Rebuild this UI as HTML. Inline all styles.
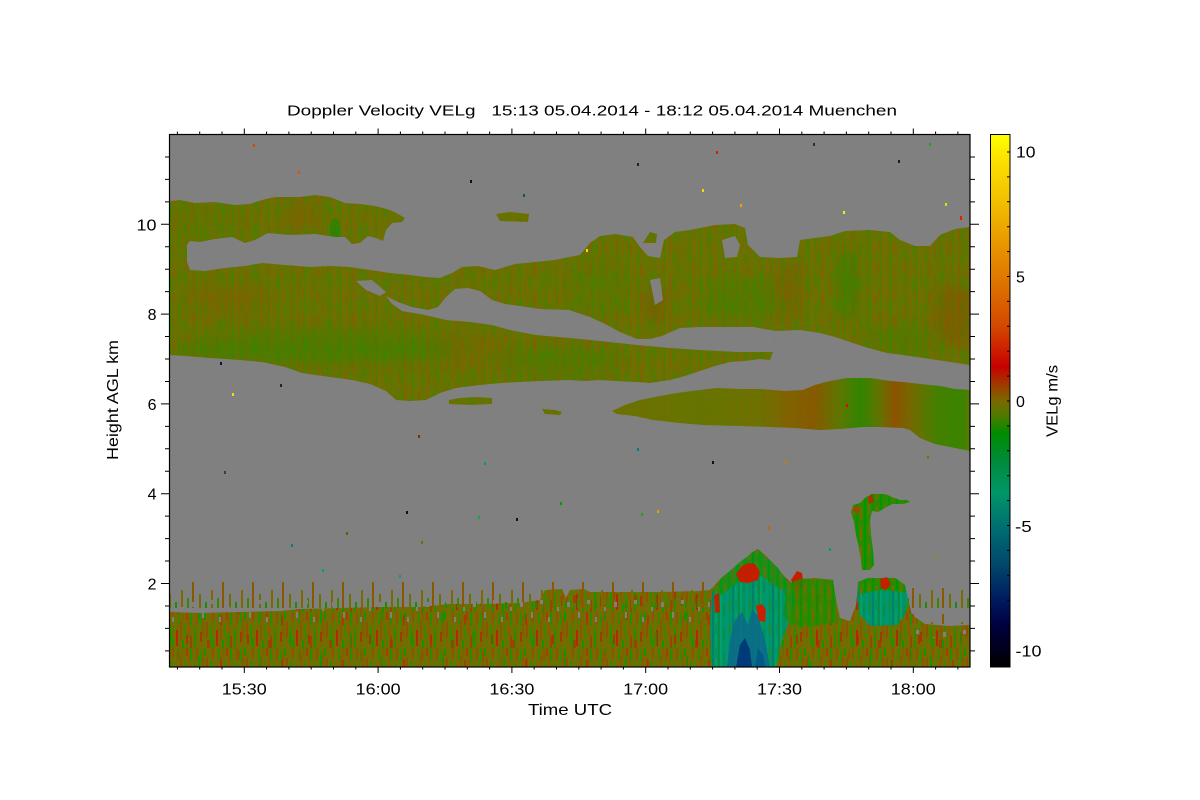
<!DOCTYPE html>
<html>
<head>
<meta charset="utf-8">
<style>
html,body{margin:0;padding:0;background:#fff;}
svg{display:block;font-family:"Liberation Sans",Arial,sans-serif;}
</style>
</head>
<body>
<svg width="1200" height="800" viewBox="0 0 1200 800" xmlns="http://www.w3.org/2000/svg">
<defs>
  <linearGradient id="cb" x1="0" y1="0" x2="0" y2="1">
    <stop offset="0" stop-color="#ffff00"/>
    <stop offset="0.05" stop-color="#fbe000"/>
    <stop offset="0.126" stop-color="#f2c000"/>
    <stop offset="0.22" stop-color="#e69000"/>
    <stop offset="0.266" stop-color="#e07a00"/>
    <stop offset="0.36" stop-color="#d44800"/>
    <stop offset="0.436" stop-color="#c80000"/>
    <stop offset="0.47" stop-color="#a03a00"/>
    <stop offset="0.5" stop-color="#7a6800"/>
    <stop offset="0.53" stop-color="#4a7c00"/>
    <stop offset="0.561" stop-color="#008c00"/>
    <stop offset="0.62" stop-color="#008c40"/>
    <stop offset="0.673" stop-color="#009668"/>
    <stop offset="0.734" stop-color="#007070"/>
    <stop offset="0.804" stop-color="#004a6c"/>
    <stop offset="0.874" stop-color="#001a60"/>
    <stop offset="0.921" stop-color="#000040"/>
    <stop offset="1" stop-color="#000000"/>
  </linearGradient>

  <linearGradient id="g6" gradientUnits="userSpaceOnUse" x1="612" y1="0" x2="970" y2="0">
    <stop offset="0" stop-color="#6e7000"/>
    <stop offset="0.246" stop-color="#667400"/>
    <stop offset="0.413" stop-color="#707000"/>
    <stop offset="0.497" stop-color="#8a5c00"/>
    <stop offset="0.567" stop-color="#8f5200"/>
    <stop offset="0.637" stop-color="#5a7800"/>
    <stop offset="0.693" stop-color="#1e8c00"/>
    <stop offset="0.743" stop-color="#5a7600"/>
    <stop offset="0.791" stop-color="#994800"/>
    <stop offset="0.832" stop-color="#7a6400"/>
    <stop offset="0.902" stop-color="#3c8400"/>
    <stop offset="0.972" stop-color="#2a8a00"/>
    <stop offset="1" stop-color="#4a8000"/>
  </linearGradient>

  <pattern id="cl" width="36" height="24" patternUnits="userSpaceOnUse">
    <rect width="36" height="24" fill="#687200"/>
    <rect x="0" width="2" height="24" fill="#627500"/>
    <rect x="2" width="3" height="24" fill="#726c00"/>
    <rect x="5" width="2" height="24" fill="#5c7700"/>
    <rect x="9" width="2" height="24" fill="#766a00"/>
    <rect x="12" width="3" height="24" fill="#627500"/>
    <rect x="16" width="2" height="24" fill="#587900"/>
    <rect x="18" width="3" height="24" fill="#6e7000"/>
    <rect x="23" width="2" height="24" fill="#7a6800"/>
    <rect x="26" width="2" height="24" fill="#5a7800"/>
    <rect x="31" width="2" height="24" fill="#726d00"/>
    <rect x="34" width="2" height="24" fill="#607600"/>
    <rect x="3" y="8" width="2" height="10" fill="#4c7e00"/>
    <rect x="14" y="2" width="2" height="8" fill="#806200"/>
    <rect x="24" y="14" width="2" height="9" fill="#547a00"/>
    <rect x="29" y="5" width="2" height="7" fill="#846000"/>
    <rect x="7" y="16" width="2" height="6" fill="#4e7e00"/>
  </pattern>
  <pattern id="cl2" width="53" height="37" patternUnits="userSpaceOnUse">
    <rect x="4" y="3" width="2" height="14" fill="#8a5a00" opacity="0.5"/>
    <rect x="11" y="20" width="3" height="12" fill="#3c8600" opacity="0.5"/>
    <rect x="19" y="8" width="2" height="18" fill="#3a8600" opacity="0.45"/>
    <rect x="27" y="0" width="2" height="10" fill="#905600" opacity="0.45"/>
    <rect x="33" y="15" width="2" height="20" fill="#8c5800" opacity="0.4"/>
    <rect x="41" y="4" width="3" height="15" fill="#408400" opacity="0.5"/>
    <rect x="47" y="22" width="2" height="12" fill="#8a5a00" opacity="0.45"/>
  </pattern>

  <pattern id="bl" width="40" height="36" patternUnits="userSpaceOnUse">
    <rect width="40" height="36" fill="#766a00"/>
    <rect x="0" y="0" width="2" height="14" fill="#3a8600"/>
    <rect x="0" y="20" width="2" height="10" fill="#a43800"/>
    <rect x="2" y="4" width="2" height="20" fill="#865c00"/>
    <rect x="4" y="0" width="2" height="8" fill="#1e9000"/>
    <rect x="4" y="24" width="2" height="12" fill="#6a7200"/>
    <rect x="6" y="10" width="2" height="16" fill="#8e5200"/>
    <rect x="8" y="0" width="2" height="36" fill="#6e7000"/>
    <rect x="10" y="14" width="2" height="18" fill="#2e8c00"/>
    <rect x="12" y="0" width="2" height="10" fill="#8e5400"/>
    <rect x="12" y="26" width="2" height="10" fill="#2a8c00"/>
    <rect x="14" y="6" width="2" height="14" fill="#5e7800"/>
    <rect x="16" y="18" width="2" height="16" fill="#b02c00"/>
    <rect x="18" y="0" width="2" height="12" fill="#3a8600"/>
    <rect x="20" y="8" width="2" height="20" fill="#845c00"/>
    <rect x="22" y="28" width="2" height="8" fill="#1a9200"/>
    <rect x="22" y="0" width="2" height="10" fill="#7a6600"/>
    <rect x="24" y="12" width="2" height="14" fill="#468200"/>
    <rect x="26" y="0" width="2" height="8" fill="#9c4400"/>
    <rect x="26" y="22" width="2" height="14" fill="#527c00"/>
    <rect x="28" y="6" width="2" height="18" fill="#8a5c00"/>
    <rect x="30" y="0" width="2" height="14" fill="#2a8c00"/>
    <rect x="30" y="24" width="2" height="12" fill="#964600"/>
    <rect x="32" y="10" width="2" height="10" fill="#6c7000"/>
    <rect x="34" y="16" width="2" height="20" fill="#348800"/>
    <rect x="36" y="0" width="2" height="12" fill="#845a00"/>
    <rect x="38" y="8" width="2" height="22" fill="#567c00"/>
  </pattern>
  <pattern id="bl2" width="61" height="45" patternUnits="userSpaceOnUse">
    <rect x="3" y="5" width="2" height="9" fill="#c02000" opacity="0.7"/>
    <rect x="15" y="25" width="2" height="12" fill="#009a00" opacity="0.6"/>
    <rect x="24" y="10" width="3" height="8" fill="#b82800" opacity="0.6"/>
    <rect x="37" y="30" width="2" height="10" fill="#c42000" opacity="0.6"/>
    <rect x="45" y="2" width="2" height="14" fill="#0c9600" opacity="0.6"/>
    <rect x="55" y="20" width="2" height="10" fill="#9a4a00" opacity="0.6"/>
  </pattern>

  <pattern id="tl" width="20" height="24" patternUnits="userSpaceOnUse">
    <rect width="20" height="24" fill="#009664"/>
    <rect x="0" width="2" height="24" fill="#00a070"/>
    <rect x="3" y="5" width="2" height="12" fill="#0a8c50"/>
    <rect x="6" width="2" height="24" fill="#009678"/>
    <rect x="9" y="0" width="2" height="10" fill="#1a8c3a"/>
    <rect x="12" width="2" height="24" fill="#00806e"/>
    <rect x="15" y="10" width="2" height="14" fill="#00a068"/>
    <rect x="18" width="2" height="24" fill="#0c8a48"/>
  </pattern>

  <pattern id="gr" width="16" height="20" patternUnits="userSpaceOnUse">
    <rect width="16" height="20" fill="#2a8a00"/>
    <rect x="0" width="2" height="20" fill="#009600"/>
    <rect x="4" y="3" width="2" height="12" fill="#5a7a00"/>
    <rect x="8" width="2" height="20" fill="#0a9400"/>
    <rect x="12" y="6" width="2" height="14" fill="#6e7000"/>
  </pattern>

  <pattern id="sp" x="0" y="576" width="30" height="32" patternUnits="userSpaceOnUse">
    <rect x="1" y="14" width="2" height="18" fill="#7a6a00"/>
    <rect x="7" y="22" width="2" height="10" fill="#3a8600"/>
    <rect x="12" y="6" width="2" height="26" fill="#8a5800"/>
    <rect x="19" y="18" width="2" height="14" fill="#6c7000"/>
    <rect x="25" y="26" width="2" height="6" fill="#1e8c00"/>
  </pattern>

  <pattern id="gp" x="0" y="598" width="47" height="30" patternUnits="userSpaceOnUse">
    <rect x="3" y="4" width="3" height="5" fill="#808080"/>
    <rect x="14" y="14" width="2" height="6" fill="#808080"/>
    <rect x="23" y="2" width="3" height="4" fill="#808080"/>
    <rect x="31" y="19" width="2" height="5" fill="#808080"/>
    <rect x="40" y="9" width="2" height="4" fill="#808080"/>
  </pattern>

  <filter id="blur" x="-50%" y="-50%" width="200%" height="200%">
    <feGaussianBlur stdDeviation="6"/>
  </filter>

  <path id="pB" d="M169.5,265 L190,270 L205,271 L225,268 L245,266 L262,263 L285,265 L310,267 L330,266 L350,267 L370,270 L390,273 L410,275 L425,277 L440,278 L452,273 L462,267 L478,266 L495,270 L515,264 L535,262 L555,260 L569,257 L580,255 L590,243 L600,236 L615,234 L633,237 L640,247 L648,256 L660,258 L664,240 L675,232 L690,230 L705,227 L715,225 L735,224 L745,228 L748,245 L760,257 L780,258 L797,257 L800,240 L815,238 L830,236 L845,231 L870,230 L890,232 L900,240 L915,246 L930,246 L940,235 L955,229 L970,227 L970,365 L950,362 L937,360 L910,356 L887,353 L865,347 L853,343 L835,337 L820,333 L800,330 L776,331 L773,352 L770,360 L760,359 L745,361 L730,362 L715,366 L703,370 L685,376 L670,380 L650,383 L637,382 L615,381 L600,380 L585,381 L569,380 L540,381 L520,382 L502,383 L480,385 L456,388 L440,393 L426,400 L410,401 L396,400 L386,391 L370,384 L352,380 L330,377 L302,373 L285,367 L262,362 L240,360 L210,358 L185,356 L169.5,355 Z"/>
  <path id="pA" d="M169.5,201 L180,200 L195,203 L215,202 L235,205 L250,204 L262,200 L275,197 L300,197 L315,195 L330,197 L345,203 L360,204 L375,206 L390,210 L398,214 L405,218 L402,222 L392,223 L386,230 L383,241 L376,238 L368,236 L360,243 L352,244 L345,237 L336,237 L315,234 L290,235 L268,233 L255,240 L245,243 L232,237 L215,239 L200,242 L190,241 L187,245 L187,262 L190,270 L169.5,272 Z"/>
  <path id="pC" d="M612,411 L625,405 L640,400 L660,396 L677,393 L700,390 L717,388 L740,389 L760,389 L785,391 L803,390 L815,385 L830,381 L847,378 L870,378 L890,381 L903,382 L920,384 L940,386 L955,389 L970,390 L970,451 L955,448 L935,444 L920,438 L910,430 L903,428 L880,427 L863,427 L840,429 L820,430 L795,428 L770,427 L740,426 L703,425 L680,423 L653,420 L635,416 L617,414 Z"/>
  <path id="pD" d="M170,612 L200,613 L240,612 L280,611 L300,609 L340,608 L380,607 L420,607 L450,604 L480,604 L520,603 L540,600 L545,590 L562,589 L566,598 L570,590 L584,589 L590,592 L620,592 L660,592 L700,591 L710,590 L714,586 L722,577 L735,567 L745,559 L752,552 L758,549 L765,555 L775,565 L785,577 L792,583 L800,579 L815,578 L833,580 L836,600 L840,618 L850,621 L856,605 L858,585 L868,578 L895,578 L905,585 L908,600 L912,615 L925,624 L950,626 L970,625 L970,667 L170,667 Z"/>

  <clipPath id="cpB"><use href="#pB"/></clipPath>
  <clipPath id="cpA"><use href="#pA"/></clipPath>
  <clipPath id="cpC"><use href="#pC"/></clipPath>
  <clipPath id="plot"><rect x="170" y="135" width="800" height="532"/></clipPath>
</defs>

<rect width="1200" height="800" fill="#ffffff"/>

<g clip-path="url(#plot)">
  <rect x="170" y="135" width="800" height="532" fill="#808080"/>

  <!-- 10 km layer -->
  <use href="#pA" fill="url(#cl)"/>
  <use href="#pA" fill="url(#cl2)"/>
  <g clip-path="url(#cpA)">
    <ellipse cx="300" cy="215" rx="16" ry="16" fill="#8c5a00" opacity="0.4" filter="url(#blur)"/>
    <ellipse cx="335" cy="230" rx="5" ry="12" fill="#009000" opacity="0.5"/>
    <ellipse cx="210" cy="225" rx="30" ry="10" fill="#4a8000" opacity="0.3" filter="url(#blur)"/>
  </g>

  <!-- main band -->
  <use href="#pB" fill="url(#cl)"/>
  <use href="#pB" fill="url(#cl2)"/>
  <g clip-path="url(#cpB)">
    <ellipse cx="320" cy="348" rx="140" ry="16" fill="#2c8800" opacity="0.4" filter="url(#blur)"/>
    <ellipse cx="560" cy="362" rx="60" ry="12" fill="#2c8800" opacity="0.3" filter="url(#blur)"/>
    <ellipse cx="230" cy="300" rx="40" ry="15" fill="#8c5a00" opacity="0.3" filter="url(#blur)"/>
    <ellipse cx="470" cy="350" rx="40" ry="15" fill="#8c5a00" opacity="0.25" filter="url(#blur)"/>
    <ellipse cx="655" cy="305" rx="10" ry="20" fill="#8c4a00" opacity="0.4" filter="url(#blur)"/>
    <ellipse cx="740" cy="300" rx="40" ry="22" fill="#2c8a00" opacity="0.3" filter="url(#blur)"/>
    <ellipse cx="848" cy="285" rx="7" ry="35" fill="#0a9000" opacity="0.5" filter="url(#blur)"/>
    <ellipse cx="790" cy="290" rx="12" ry="28" fill="#8c5000" opacity="0.3" filter="url(#blur)"/>
    <ellipse cx="955" cy="315" rx="20" ry="30" fill="#8e4c00" opacity="0.4" filter="url(#blur)"/>
    <ellipse cx="900" cy="340" rx="35" ry="12" fill="#2c8a00" opacity="0.3" filter="url(#blur)"/>
    <ellipse cx="600" cy="290" rx="30" ry="25" fill="#3c8400" opacity="0.25" filter="url(#blur)"/>
  </g>
  <!-- gray wedge and holes -->
  <path d="M386,296 L398,302 L412,307 L428,310 L438,307 L446,297 L455,289 L468,288 L480,291 L492,300 L505,304 L520,306 L540,309 L569,310 L590,317 L603,323 L620,332 L637,339 L650,339 L662,336 L680,328 L700,327 L730,327 L753,327 L776,331 L773,352 L760,352 L737,352 L700,350 L670,348 L637,345 L600,341 L570,338 L536,335 L510,330 L492,325 L470,322 L446,320 L425,315 L402,311 L392,304 Z" fill="#808080"/>
  <path d="M356,281 L372,280 L386,292 L380,296 L366,290 Z" fill="#808080"/>
  <path d="M722,240 L735,236 L740,245 L737,257 L725,258 Z" fill="#808080"/>
  <path d="M650,280 L660,278 L663,300 L655,305 Z" fill="#808080"/>
  <path d="M643,243 L650,232 L657,234 L656,243 Z" fill="url(#cl)"/>
  <path d="M496,214 L510,212 L529,214 L528,222 L500,221 Z" fill="url(#cl)"/>

  <!-- 6 km layer -->
  <use href="#pC" fill="url(#g6)"/>
  <use href="#pC" fill="url(#cl)" opacity="0.25"/>
  <path d="M449,400 L460,398 L475,397 L492,398 L492,404 L470,405 L449,404 Z" fill="url(#cl)"/>
  <path d="M542,409 L555,410 L562,412 L560,415 L545,414 Z" fill="url(#cl)"/>

  <!-- boundary layer -->
  <use href="#pD" fill="url(#bl)"/>
  <use href="#pD" fill="url(#bl2)"/>
  <rect x="170" y="576" width="540" height="32" fill="url(#sp)"/>
  <rect x="170" y="598" width="540" height="28" fill="url(#gp)"/>
  <rect x="905" y="588" width="65" height="36" fill="url(#sp)"/>
  <rect x="905" y="620" width="65" height="18" fill="url(#gp)"/>
  <rect x="840" y="590" width="16" height="30" fill="url(#gp)"/>

  <!-- convective cell -->
  <path d="M712,592 L722,578 L740,562 L752,553 L758,550 L765,556 L778,568 L790,585 L795,600 L790,620 L782,640 L776,667 L712,667 L710,630 Z" fill="url(#tl)"/>
  <path d="M712,592 L722,578 L740,562 L752,553 L758,550 L765,556 L778,568 L790,585 L782,590 L760,575 L740,580 L722,595 Z" fill="url(#gr)" opacity="0.8"/>
  <path d="M727,667 L730,640 L735,620 L742,612 L748,625 L752,610 L758,615 L765,640 L770,667 Z" fill="#0a6a8a" opacity="0.85"/>
  <path d="M736,667 L740,645 L745,638 L750,650 L752,667 Z" fill="#003a78"/>
  <path d="M755,667 L758,648 L763,655 L765,667 Z" fill="#005a8a"/>
  <path d="M736,574 L742,566 L748,563 L755,564 L760,572 L758,580 L748,583 L740,582 Z" fill="#c41e00"/>
  <path d="M756,606 L762,604 L766,610 L765,622 L759,621 Z" fill="#c82000"/>
  <path d="M791,580 L797,571 L802,573 L804,588 L796,592 Z" fill="#c42000"/>
  <path d="M714,595 L719,593 L720,612 L715,613 Z" fill="#b42800"/>
  <path d="M785,585 L800,579 L833,580 L836,600 L838,622 L800,628 L785,620 Z" fill="url(#gr)" opacity="0.8"/>

  <!-- second cell blob -->
  <path d="M858,582 L868,578 L895,578 L905,585 L908,600 L905,615 L897,625 L870,626 L860,615 L857,600 Z" fill="url(#tl)"/>
  <path d="M858,582 L868,578 L895,578 L905,585 L906,592 L880,590 L860,594 Z" fill="url(#gr)"/>
  <path d="M880,579 L887,577 L891,584 L886,590 L881,588 Z" fill="#c42000"/>
  <!-- plume/stem -->
  <path d="M851,512 L853,505 L860,503 L866,497 L872,494 L885,494 L892,497 L900,500 L907,500 L910,502 L903,504 L892,504 L885,508 L878,512 L872,511 L870,520 L871,535 L873,550 L874,565 L870,570 L862,570 L861,560 L859,548 L856,535 L854,522 Z" fill="url(#gr)"/>
  <path d="M852,510 L856,506 L860,507 L858,515 Z" fill="#9a4a00"/>
  <path d="M868,497 L872,494 L874,502 L869,504 Z" fill="#b03000"/>

  <!-- specks -->
  <g>
    <rect x="253" y="144" width="2" height="3" fill="#e04000"/>
    <rect x="637" y="163" width="2" height="3" fill="#202030"/>
    <rect x="716" y="151" width="2" height="3" fill="#d02000"/>
    <rect x="813" y="143" width="2" height="3" fill="#203040"/>
    <rect x="898" y="160" width="2" height="3" fill="#102020"/>
    <rect x="929" y="143" width="2" height="3" fill="#20a020"/>
    <rect x="470" y="180" width="2" height="3" fill="#101010"/>
    <rect x="702" y="189" width="2" height="3" fill="#f0e000"/>
    <rect x="740" y="204" width="2" height="3" fill="#f0a000"/>
    <rect x="843" y="211" width="2" height="3" fill="#f0f000"/>
    <rect x="945" y="203" width="2" height="3" fill="#e0e000"/>
    <rect x="960" y="216" width="2" height="4" fill="#e02000"/>
    <rect x="586" y="249" width="2" height="3" fill="#f0e000"/>
    <rect x="298" y="171" width="2" height="3" fill="#e05000"/>
    <rect x="523" y="194" width="2" height="3" fill="#205060"/>
    <rect x="406" y="511" width="2" height="3" fill="#101020"/>
    <rect x="478" y="516" width="2" height="3" fill="#20a040"/>
    <rect x="516" y="518" width="2" height="3" fill="#101030"/>
    <rect x="637" y="448" width="2" height="3" fill="#008080"/>
    <rect x="712" y="461" width="2" height="3" fill="#101010"/>
    <rect x="657" y="510" width="2" height="3" fill="#e0a000"/>
    <rect x="322" y="569" width="2" height="3" fill="#00a080"/>
    <rect x="224" y="471" width="2" height="3" fill="#304050"/>
    <rect x="418" y="435" width="2" height="3" fill="#803000"/>
    <rect x="484" y="462" width="2" height="3" fill="#00a060"/>
    <rect x="421" y="541" width="2" height="3" fill="#508000"/>
    <rect x="560" y="502" width="2" height="3" fill="#00a000"/>
    <rect x="785" y="461" width="2" height="3" fill="#c08000"/>
    <rect x="927" y="456" width="2" height="3" fill="#608000"/>
    <rect x="232" y="393" width="2" height="3" fill="#f0e000"/>
    <rect x="220" y="362" width="2" height="3" fill="#101040"/>
    <rect x="280" y="384" width="2" height="3" fill="#202040"/>
    <rect x="291" y="544" width="2" height="3" fill="#008080"/>
    <rect x="399" y="575" width="2" height="3" fill="#00a080"/>
    <rect x="346" y="532" width="2" height="3" fill="#606000"/>
    <rect x="846" y="404" width="2" height="3" fill="#f00000"/>
    <rect x="641" y="513" width="2" height="3" fill="#20a020"/>
    <rect x="768" y="526" width="2" height="4" fill="#d06000"/>
    <rect x="829" y="548" width="2" height="3" fill="#00a060"/>
    <rect x="935" y="555" width="2" height="3" fill="#60a000"/>
  </g>
</g>

<!-- plot frame -->
<rect x="169.5" y="134.5" width="800.5" height="532.5" fill="none" stroke="#000" stroke-width="1.2"/>

<!-- x ticks -->
<path stroke="#000" stroke-width="1" fill="none" d="
M177.4,134.5v-3 M199.7,134.5v-3 M222.0,134.5v-3 M244.3,134.5v-6 M266.6,134.5v-3 M288.9,134.5v-3 M311.2,134.5v-3 M333.5,134.5v-3 M355.8,134.5v-3 M378.1,134.5v-6 M400.4,134.5v-3 M422.7,134.5v-3 M445.0,134.5v-3 M467.3,134.5v-3 M489.6,134.5v-3 M511.9,134.5v-6 M534.2,134.5v-3 M556.5,134.5v-3 M578.8,134.5v-3 M601.1,134.5v-3 M623.4,134.5v-3 M645.7,134.5v-6 M668.0,134.5v-3 M690.3,134.5v-3 M712.6,134.5v-3 M734.9,134.5v-3 M757.2,134.5v-3 M779.5,134.5v-6 M801.8,134.5v-3 M824.1,134.5v-3 M846.4,134.5v-3 M868.7,134.5v-3 M891.0,134.5v-3 M913.3,134.5v-6 M935.6,134.5v-3 M957.9,134.5v-3
M177.4,667v2.5 M199.7,667v2.5 M222.0,667v2.5 M244.3,667v6 M266.6,667v2.5 M288.9,667v2.5 M311.2,667v2.5 M333.5,667v2.5 M355.8,667v2.5 M378.1,667v6 M400.4,667v2.5 M422.7,667v2.5 M445.0,667v2.5 M467.3,667v2.5 M489.6,667v2.5 M511.9,667v6 M534.2,667v2.5 M556.5,667v2.5 M578.8,667v2.5 M601.1,667v2.5 M623.4,667v2.5 M645.7,667v6 M668.0,667v2.5 M690.3,667v2.5 M712.6,667v2.5 M734.9,667v2.5 M757.2,667v2.5 M779.5,667v6 M801.8,667v2.5 M824.1,667v2.5 M846.4,667v2.5 M868.7,667v2.5 M891.0,667v2.5 M913.3,667v6 M935.6,667v2.5 M957.9,667v2.5
"/>

<!-- y ticks -->
<path stroke="#000" stroke-width="1" fill="none" d="
M169.5,650.85h-4.5 M169.5,628.4h-4.5 M169.5,605.95h-4.5 M169.5,583.5h-8.5 M169.5,561.05h-4.5 M169.5,538.6h-4.5 M169.5,516.15h-4.5 M169.5,493.7h-8.5 M169.5,471.25h-4.5 M169.5,448.8h-4.5 M169.5,426.35h-4.5 M169.5,403.9h-8.5 M169.5,381.45h-4.5 M169.5,359h-4.5 M169.5,336.55h-4.5 M169.5,314.1h-8.5 M169.5,291.65h-4.5 M169.5,269.2h-4.5 M169.5,246.75h-4.5 M169.5,224.3h-8.5 M169.5,201.85h-4.5 M169.5,179.4h-4.5 M169.5,156.95h-4.5
M970,650.85h5 M970,628.4h5 M970,605.95h5 M970,583.5h9 M970,561.05h5 M970,538.6h5 M970,516.15h5 M970,493.7h9 M970,471.25h5 M970,448.8h5 M970,426.35h5 M970,403.9h9 M970,381.45h5 M970,359h5 M970,336.55h5 M970,314.1h9 M970,291.65h5 M970,269.2h5 M970,246.75h5 M970,224.3h9 M970,201.85h5 M970,179.4h5 M970,156.95h5
"/>

<!-- title -->
<text x="287" y="115.5" font-size="15" textLength="610" lengthAdjust="spacingAndGlyphs" style="white-space:pre" fill="#000">Doppler Velocity VELg   15:13 05.04.2014 - 18:12 05.04.2014 Muenchen</text>

<!-- x labels -->
<g font-size="16" fill="#000" text-anchor="middle">
  <text x="244.3" y="694.5" textLength="45" lengthAdjust="spacingAndGlyphs">15:30</text>
  <text x="378.1" y="694.5" textLength="45" lengthAdjust="spacingAndGlyphs">16:00</text>
  <text x="511.9" y="694.5" textLength="45" lengthAdjust="spacingAndGlyphs">16:30</text>
  <text x="645.7" y="694.5" textLength="45" lengthAdjust="spacingAndGlyphs">17:00</text>
  <text x="779.5" y="694.5" textLength="45" lengthAdjust="spacingAndGlyphs">17:30</text>
  <text x="913.3" y="694.5" textLength="45" lengthAdjust="spacingAndGlyphs">18:00</text>
  <text x="570" y="715" textLength="84" lengthAdjust="spacingAndGlyphs">Time UTC</text>
</g>

<!-- y labels -->
<g font-size="16" fill="#000" text-anchor="end">
  <text x="156.5" y="230.3" textLength="20" lengthAdjust="spacingAndGlyphs">10</text>
  <text x="156.5" y="320.1">8</text>
  <text x="156.5" y="409.9">6</text>
  <text x="156.5" y="499.7">4</text>
  <text x="156.5" y="589.5">2</text>
</g>
<text transform="translate(118,400) rotate(-90)" font-size="16" fill="#000" text-anchor="middle" textLength="120" lengthAdjust="spacingAndGlyphs">Height AGL km</text>

<!-- colorbar -->
<rect x="990.5" y="134.5" width="19.5" height="532.5" fill="url(#cb)" stroke="#000" stroke-width="1"/>
<path stroke="#000" stroke-width="1" fill="none" d="
M1010,152h-3 M1010,176.9h-3 M1010,201.8h-3 M1010,226.7h-3 M1010,251.6h-3 M1010,276.5h-3 M1010,301.4h-3 M1010,326.3h-3 M1010,351.2h-3 M1010,376.1h-3 M1010,401h-3 M1010,425.9h-3 M1010,450.8h-3 M1010,475.7h-3 M1010,500.6h-3 M1010,525.5h-3 M1010,550.4h-3 M1010,575.3h-3 M1010,600.2h-3 M1010,625.1h-3 M1010,650h-3
"/>
<g font-size="16" fill="#000">
  <text x="1016" y="157.5" textLength="19.5" lengthAdjust="spacingAndGlyphs">10</text>
  <text x="1016" y="282.5">5</text>
  <text x="1016" y="407">0</text>
  <text x="1015" y="532" textLength="16.7" lengthAdjust="spacingAndGlyphs">-5</text>
  <text x="1015.5" y="656.5" textLength="26" lengthAdjust="spacingAndGlyphs">-10</text>
</g>
<text transform="translate(1057.5,401) rotate(-90)" font-size="16" fill="#000" text-anchor="middle" textLength="72" lengthAdjust="spacingAndGlyphs">VELg m/s</text>
</svg>
</body>
</html>
